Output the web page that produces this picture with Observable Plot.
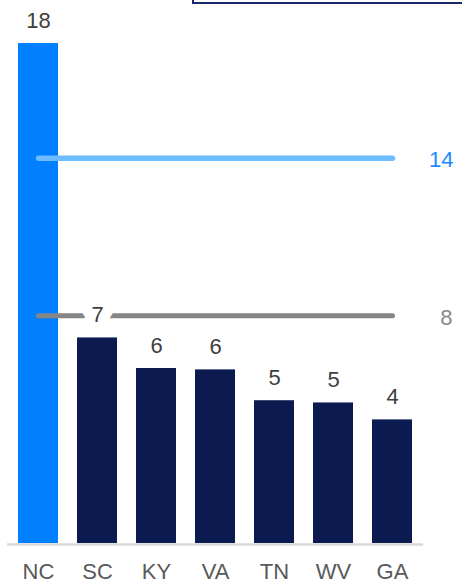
<!DOCTYPE html>
<html>
<head>
<meta charset="utf-8">
<script src="https://cdn.jsdelivr.net/npm/d3@7"></script>
<script src="https://cdn.jsdelivr.net/npm/@observablehq/plot@0.6"></script>
<style>
  html, body { margin: 0; padding: 0; background: #fff; overflow: hidden; }
  #wrap { position: relative; width: 462px; height: 584px; }
  #box {
    position: absolute; left: 192px; top: -37px; width: 290px; height: 41px;
    border: 2px solid #1b2766; box-sizing: border-box;
  }
  #chart { position: absolute; left: 0; top: 0; }
</style>
</head>
<body>
<div id="wrap">
  <div id="chart"></div>
  <div id="box"></div>
</div>
<script>
// States ranked by value
const states = ["NC", "SC", "KY", "VA", "TN", "WV", "GA"];
const values = [18, 7.4, 6.3, 6.25, 5.14, 5.06, 4.45];
// Reference levels drawn across the bars
const upperRef = 13.87;
const lowerRef = 8.2;

const highlight = "NC";
const bars = states.map((state, i) => ({state, value: values[i]}));
const span = v => [{state: states[0], value: v}, {state: states[states.length - 1], value: v}];
const fmt = v => String(Math.round(v));

const font = "'Liberation Sans', Arial, sans-serif";

const chart = Plot.plot({
  width: 462,
  height: 584,
  marginLeft: 7,
  marginRight: 39,
  marginTop: 43,
  marginBottom: 41,
  style: {fontFamily: font, fontSize: "22px", background: "white"},
  x: {domain: states, paddingInner: 0.327, paddingOuter: 0.168, axis: null, label: null},
  y: {domain: [0, 18], axis: null},
  marks: [
    Plot.barY(bars, {
      x: "state", y: "value",
      fill: d => d.state === highlight ? "#0080ff" : "#0b1b50"
    }),
    Plot.ruleY([0], {stroke: "#d9d9d9", strokeWidth: 2.5, dy: 1}),
    Plot.lineY(span(upperRef), {
      x: "state", y: "value", stroke: "#6cbcff", strokeWidth: 5.5, strokeLinecap: "round"
    }),
    Plot.lineY(span(lowerRef), {
      x: "state", y: "value", stroke: "#858585", strokeWidth: 5, strokeLinecap: "round"
    }),
    // value labels with a white halo so they break the reference line
    Plot.text(bars, {
      x: "state", y: "value", text: d => fmt(d.value),
      dy: -23, lineAnchor: "middle", fill: "#404040",
      stroke: "white", strokeWidth: 22, strokeLinejoin: "round"
    }),
    Plot.text(span(upperRef).slice(1), {
      x: "state", y: "value", text: d => fmt(d.value),
      dx: 61, dy: 2, textAnchor: "end", lineAnchor: "middle", fill: "#1a8cff"
    }),
    Plot.text(span(lowerRef).slice(1), {
      x: "state", y: "value", text: d => fmt(d.value),
      dx: 60, dy: 2, textAnchor: "end", lineAnchor: "middle", fill: "#8a8a8a"
    }),
    Plot.axisX({
      domain: states, tickSize: 0, tickPadding: 20, fill: "#595959", fontSize: 22, label: null
    })
  ]
});

document.getElementById("chart").appendChild(chart);
</script>
</body>
</html>
